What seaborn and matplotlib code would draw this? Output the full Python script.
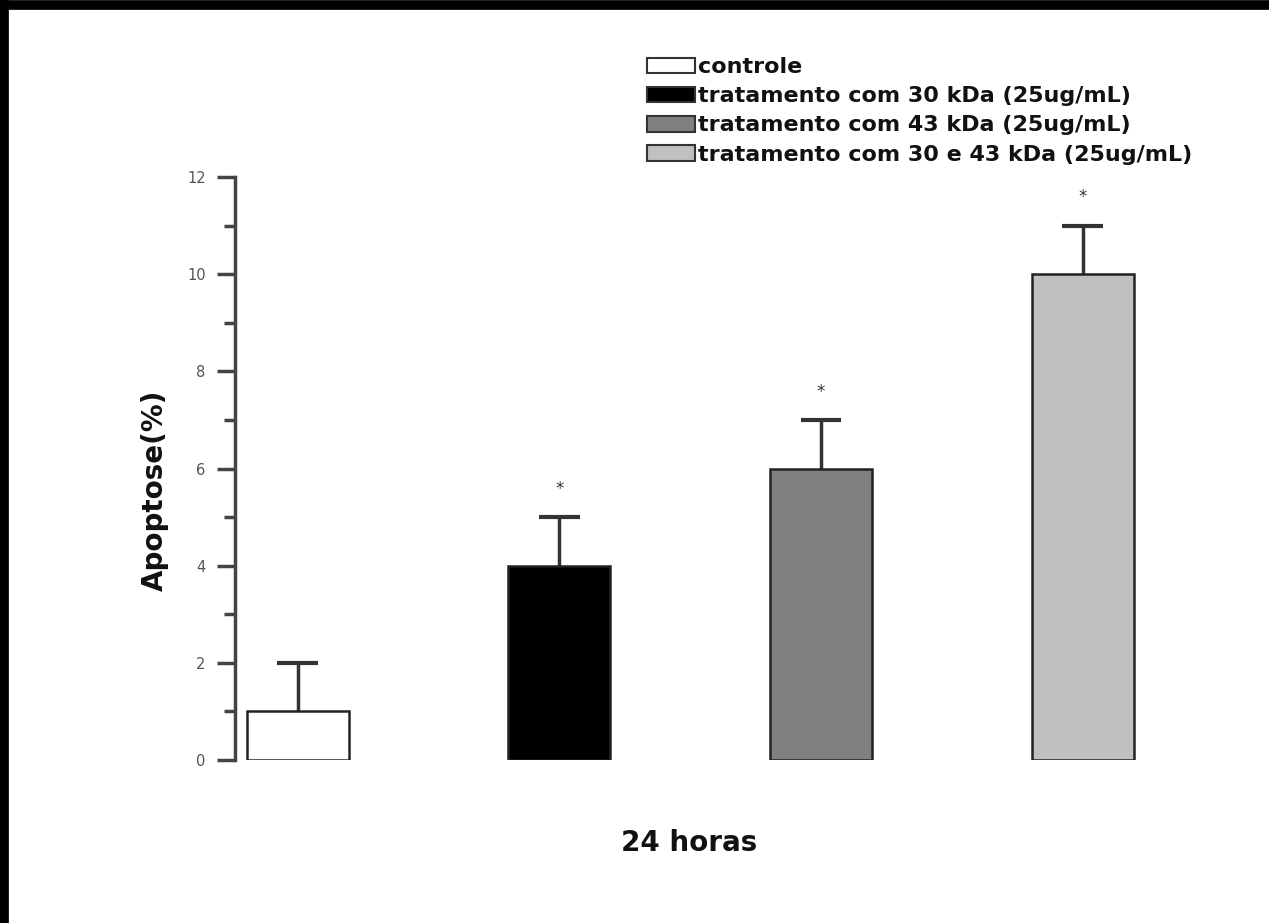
import matplotlib
matplotlib.use("Agg")
import matplotlib.pyplot as plt
from matplotlib.lines import Line2D
from matplotlib.patches import Patch
import seaborn as sns
import pandas as pd

categories = ["controle",
              "tratamento com 30 kDa (25ug/mL)",
              "tratamento com 43 kDa (25ug/mL)",
              "tratamento com 30 e 43 kDa (25ug/mL)"]
values = [1, 4, 6, 10]
errors = [1, 1, 1, 1]
significant = [False, True, True, True]
colors = ["#ffffff", "#000000", "#808080", "#c0c0c0"]
y_ticks = [0, 2, 4, 6, 8, 10, 12]

sns.set_theme(style="white")
plt.rcParams['font.family'] = ['DejaVu Sans']

df = pd.DataFrame({"grupo": categories, "apoptose": values})

fig = plt.figure(figsize=(12.69, 9.23), dpi=100)
ax = fig.add_axes([0.185, 0.1766, 0.73, 0.6316])

sns.barplot(data=df, x="grupo", y="apoptose", hue="grupo",
            palette=colors, order=categories, hue_order=categories,
            width=0.39, edgecolor="#222222", linewidth=1.8,
            errorbar=None, legend=False, ax=ax, zorder=2)

xs = list(range(len(categories)))
tops = [v + e for v, e in zip(values, errors)]
ax.vlines(xs, values, tops, colors="#333333", linewidth=2.5, zorder=1)
ax.hlines(tops, [x - 0.078 for x in xs], [x + 0.078 for x in xs],
          colors="#333333", linewidth=3, zorder=1)

for x, t, s in zip(xs, tops, significant):
    if s:
        ax.text(x, t + 0.4, "*", ha="center", va="bottom",
                fontsize=12, color="#333333")

ax.set_ylim(0, 12)
ax.set_xlim(-0.24, 3.3)
ax.set_yticks(y_ticks)
ax.set_yticks([1, 3, 5, 7, 9, 11], minor=True)
ax.set_yticklabels([str(t) for t in y_ticks], fontsize=10.5, color="#555555")
ax.tick_params(axis="y", which="major", direction="out", length=13, width=2.5,
               color="#444444", left=True, pad=8)
ax.tick_params(axis="y", which="minor", direction="out", length=8, width=2.5,
               color="#444444", left=True)
ax.set_xticks([])
ax.set_xlabel("")
ax.set_ylabel("")
for side in ["top", "right", "bottom"]:
    ax.spines[side].set_visible(False)
ax.spines["left"].set_color("#444444")
ax.spines["left"].set_linewidth(2.5)

fig.text(0.122, 0.469, "Apoptose(%)", rotation=90, ha="center", va="center",
         fontsize=20, fontweight="bold", color="#111111")
fig.text(0.543, 0.087, "24 horas", ha="center", va="center",
         fontsize=20, fontweight="bold", color="#111111")

handles = [Patch(facecolor=c, edgecolor="#333333", linewidth=1.5) for c in colors]
leg = fig.legend(handles, categories, loc="upper left", bbox_to_anchor=(0.5098, 0.938),
                 frameon=False, prop={"size": 16, "weight": "bold"},
                 handlelength=2.16, handleheight=0.72, handletextpad=0.12,
                 labelspacing=0.41, borderaxespad=0, borderpad=0)
for t in leg.get_texts():
    t.set_color("#111111")

fig.add_artist(Line2D([0, 1], [0.9951, 0.9951], transform=fig.transFigure,
                      color="black", linewidth=7))
fig.add_artist(Line2D([0.0035, 0.0035], [0, 1], transform=fig.transFigure,
                      color="black", linewidth=7))

fig.savefig("out.png", dpi=100)
